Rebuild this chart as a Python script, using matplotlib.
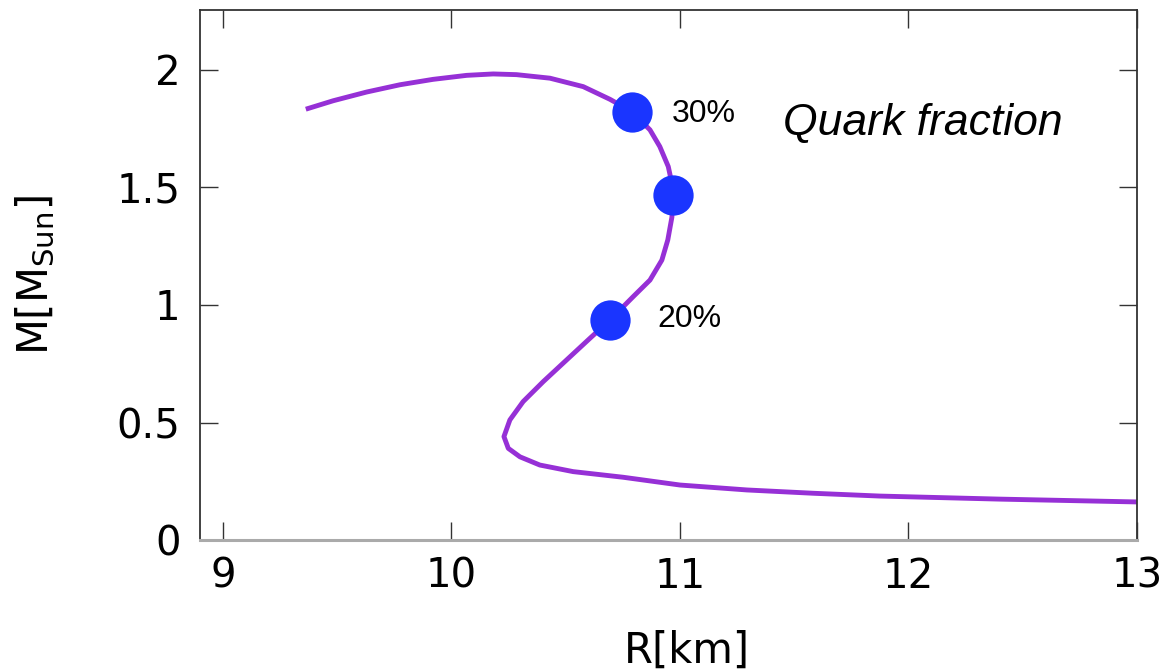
import matplotlib
matplotlib.use('Agg')
import matplotlib.pyplot as plt

# mass-radius curve, from the low-mass end up to the heaviest configuration
radius_km = [13.0, 12.40, 11.875, 11.582, 11.293, 11.0, 10.752, 10.533,
             10.387, 10.300, 10.249, 10.230, 10.256, 10.314, 10.402, 10.504,
             10.606, 10.694, 10.794, 10.869, 10.921, 10.947, 10.965, 10.969,
             10.968, 10.949, 10.912, 10.869, 10.789, 10.694, 10.577, 10.431,
             10.285, 10.183, 10.067, 9.920, 9.775, 9.629, 9.483, 9.363]
mass_msun = [0.162, 0.174, 0.187, 0.199, 0.213, 0.234, 0.267, 0.291,
             0.319, 0.354, 0.390, 0.440, 0.511, 0.589, 0.674, 0.766,
             0.858, 0.936, 1.034, 1.106, 1.191, 1.277, 1.374, 1.468,
             1.503, 1.589, 1.674, 1.745, 1.823, 1.875, 1.929, 1.965,
             1.980, 1.983, 1.977, 1.960, 1.937, 1.906, 1.869, 1.833]

# stars marked along the branch
marker_r = [10.694, 10.969, 10.789]
marker_m = [0.936, 1.468, 1.823]

x_ticks = [9, 10, 11, 12, 13]
y_ticks = [0, 0.5, 1, 1.5, 2]
y_tick_labels = ['0', '0.5', '1', '1.5', '2']

plt.rcParams['font.family'] = ['DejaVu Sans']
plt.rcParams['mathtext.fontset'] = 'dejavusans'

fig = plt.figure(figsize=(11.73, 6.72), dpi=100)
ax = fig.add_axes([0.1705, 0.1964, 0.7988, 0.7887])

ax.plot(radius_km, mass_msun, color='#9630d6', lw=3.5,
        solid_joinstyle='round', solid_capstyle='butt', zorder=2)
ax.plot(marker_r, marker_m, 'o', ms=29, color='#1a35ff', mec='none', zorder=3)

ax.text(10.965, 1.779, '30%', fontsize=23, family='Liberation Sans',
        va='baseline', ha='left')
ax.text(10.90, 0.906, '20%', fontsize=23, family='Liberation Sans',
        va='baseline', ha='left')
ax.text(11.45, 1.723, 'Quark fraction', fontsize=32, style='italic',
        family='Liberation Sans', va='baseline', ha='left')

ax.set_xlim(8.9, 13)
ax.set_ylim(0, 2.255)
ax.set_xticks(x_ticks)
ax.set_yticks(y_ticks)
ax.set_yticklabels(y_tick_labels)

ax.tick_params(direction='in', length=13, width=1.0, color='#333333',
               labelsize=29, top=True, right=True)
ax.tick_params(axis='x', pad=12)
ax.tick_params(axis='y', pad=14)

for side in ['left', 'top', 'right']:
    ax.spines[side].set_color('#333333')
    ax.spines[side].set_linewidth(1.3)
ax.spines['bottom'].set_color('#aaaaaa')
ax.spines['bottom'].set_linewidth(2.2)

ax.set_xlabel('R[km]', fontsize=30)
ax.set_ylabel(r'M[M$_{\mathrm{Sun}}$]', fontsize=30)
ax.xaxis.set_label_coords((687 - 200) / 937, -0.17)
ax.yaxis.set_label_coords(-0.152, 0.5)

fig.savefig('out.png', dpi=100)
